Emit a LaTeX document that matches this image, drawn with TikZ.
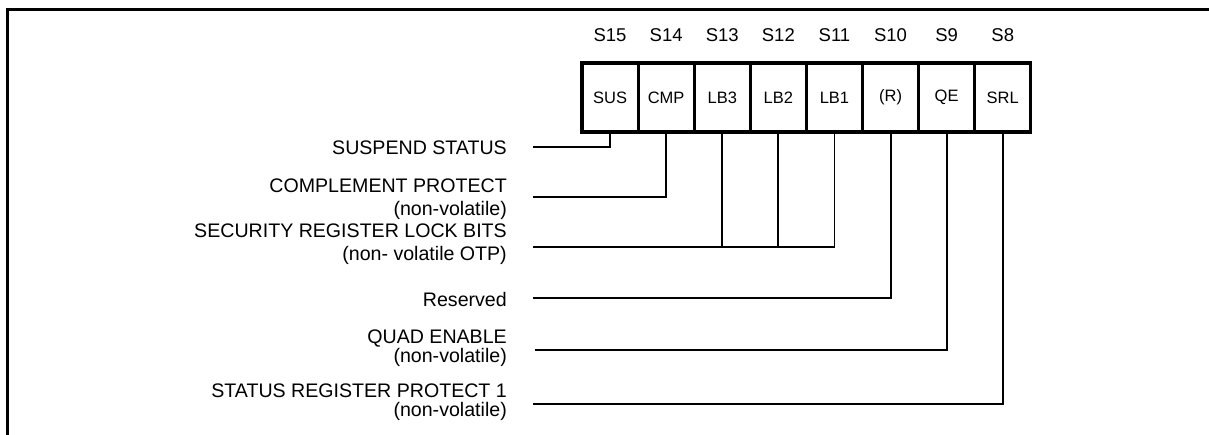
\documentclass[tikz,border=0pt]{standalone}
\usepackage{fontspec}
\setmainfont{Liberation Sans}
\begin{document}
\begin{tikzpicture}[x=1pt,y=-1pt,
  frame/.style={line width=3pt},
  bitbox/.style={draw,line width=3.2pt,minimum width=56.1pt,minimum height=69pt,inner sep=0pt,font=\fontsize{16.5}{18}\selectfont},
  bitname/.style={anchor=base,inner sep=0pt,font=\fontsize{18.5}{20}\selectfont},
  desc/.style={anchor=base east,inner sep=0pt,align=right,font=\fontsize{19.6}{23}\selectfont},
  conn/.style={line width=1.9pt}]
\useasboundingbox (0,0) rectangle (1209,435);
\draw[frame] (7,435) -- (7,10) -- (1209,10);
% bit boxes
\foreach \n/\t [count=\i from 0] in {15/SUS,14/CMP,13/LB3,12/LB2,11/LB1,10/(R),9/QE,8/SRL}{
  \node[bitbox] (b\n) at ({610.05+56.1*\i},97.5) {\t};
  \node[bitname] (s\n) at ({610.05+56.1*\i},41.5) {S\n};
}
% descriptions (base anchor = baseline of the last line)
\node[desc] (d15) at (507,154.5) {SUSPEND STATUS};
\node[desc] (d14) at (507,215.5) {COMPLEMENT PROTECT\\(non-volatile)};
\node[desc] (d13) at (507,260.5) {SECURITY REGISTER LOCK BITS\\(non- volatile OTP)};
\node[desc] (d10) at (507,306.5) {Reserved};
\node[desc,font=\fontsize{19.6}{19.5}\selectfont] (d9) at (507,362.5) {QUAD ENABLE\\(non-volatile)};
\node[desc,font=\fontsize{19.6}{18.5}\selectfont] (d8) at (507,416) {STATUS REGISTER PROTECT 1\\(non-volatile)};
% connector ends
\coordinate (e15) at (533,147);
\coordinate (e14) at (533,197);
\coordinate (e13) at (533,247);
\coordinate (e10) at (533,298);
\coordinate (e9) at (535,350);
\coordinate (e8) at (533,404);
\draw[conn] (b15.south) |- (e15);
\draw[conn] (b14.south) |- (e14);
\draw[conn] (b11.south) |- (e13);
\draw[conn] (b13.south) -- (b13.south |- e13);
\draw[conn] (b12.south) -- (b12.south |- e13);
\draw[conn] (b10.south) |- (e10);
\draw[conn] (b9.south) |- (e9);
\draw[conn] (b8.south) |- (e8);
\end{tikzpicture}
\end{document}
